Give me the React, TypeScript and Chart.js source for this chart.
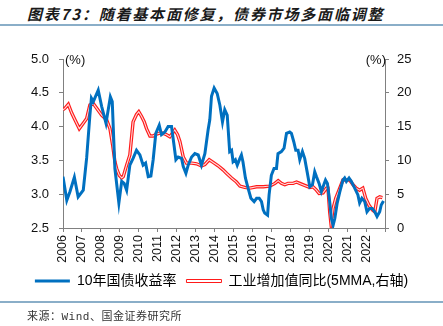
import React, { useEffect, useRef } from "react";
import { Chart, registerables } from "chart.js";

Chart.register(...registerables);

// 10-year government bond yield (%, left axis)
const yieldYears = [
  2006.0, 2006.2, 2006.37, 2006.6, 2006.8, 2007.07, 2007.25, 2007.42, 2007.5, 2007.6,
  2007.86, 2008.04, 2008.27, 2008.5, 2008.6, 2008.74, 2008.95, 2009.1, 2009.23, 2009.36,
  2009.53, 2009.7, 2009.88, 2010.06, 2010.23, 2010.36, 2010.5, 2010.64, 2010.76, 2010.9,
  2011.08, 2011.2, 2011.38, 2011.55, 2011.73, 2011.85, 2011.96, 2012.08, 2012.26, 2012.35,
  2012.49, 2012.61, 2012.79, 2012.96, 2013.14, 2013.31, 2013.49, 2013.66, 2013.75, 2013.84,
  2013.98, 2014.14, 2014.28, 2014.42, 2014.54, 2014.67, 2014.8, 2014.9, 2014.98, 2015.1,
  2015.2, 2015.34, 2015.42, 2015.5, 2015.63, 2015.77, 2015.92, 2016.09, 2016.22, 2016.36,
  2016.48, 2016.57, 2016.65, 2016.8, 2016.88, 2017.0, 2017.14, 2017.27, 2017.35, 2017.53,
  2017.67, 2017.8, 2017.97, 2018.06, 2018.18, 2018.29, 2018.41, 2018.5, 2018.64, 2018.76,
  2018.89, 2019.03, 2019.17, 2019.29, 2019.38, 2019.52, 2019.64, 2019.73, 2019.86, 2019.96,
  2020.08, 2020.17, 2020.26, 2020.35, 2020.47, 2020.61, 2020.78, 2020.87, 2020.96, 2021.1,
  2021.22, 2021.4, 2021.57, 2021.66, 2021.78, 2021.93, 2022.05, 2022.19, 2022.33, 2022.46,
  2022.58, 2022.72, 2022.8, 2022.92,
];
const yieldValues = [
  3.26, 2.91, 3.04, 3.25, 2.96, 3.06, 3.54, 4.17, 4.42, 4.37,
  4.54, 4.3, 4.05, 4.44, 4.37, 3.38, 2.87, 3.19, 3.16, 3.06,
  3.43, 3.53, 3.65, 3.58, 3.43, 3.46, 3.26, 3.27, 3.51, 3.9,
  4.02, 3.88, 3.92, 4.0, 4.0, 3.75, 3.51, 3.55, 3.53, 3.41,
  3.31, 3.43, 3.55, 3.6, 3.58, 3.43, 3.6, 3.95, 4.1, 4.45,
  4.57, 4.49, 4.32, 4.07, 4.25, 4.17, 3.63, 3.65, 3.48, 3.51,
  3.43, 3.53, 3.58, 3.48, 3.24, 3.09, 2.94, 2.89, 2.94, 2.94,
  2.89, 2.77, 2.72, 2.69, 2.99, 3.28, 3.38, 3.38, 3.6, 3.63,
  3.68, 3.9, 3.92, 3.9, 3.78, 3.65, 3.65, 3.51, 3.63, 3.53,
  3.33, 3.11, 3.14, 3.33, 3.26, 3.16, 3.04, 3.11, 3.21, 3.16,
  2.89, 2.64, 2.54, 2.64, 2.86, 3.03, 3.21, 3.24, 3.19, 3.24,
  3.19, 3.09, 2.99, 2.87, 2.94, 2.89, 2.74, 2.79, 2.79, 2.74,
  2.67, 2.74, 2.84, 2.9,
];

// Industrial value added YoY, 5-month moving average (%, right axis)
const ivaYears = [
  2006.0, 2006.1, 2006.28, 2006.46, 2006.63, 2006.86, 2007.07, 2007.25, 2007.42, 2007.6,
  2007.78, 2008.04, 2008.3, 2008.48, 2008.62, 2008.74, 2008.83, 2008.97, 2009.1, 2009.18,
  2009.36, 2009.53, 2009.7, 2009.88, 2010.0, 2010.15, 2010.29, 2010.41, 2010.59, 2010.76,
  2010.94, 2011.2, 2011.47, 2011.64, 2011.9, 2012.05, 2012.17, 2012.35, 2012.52, 2012.8,
  2013.05, 2013.31, 2013.49, 2013.72, 2013.93, 2014.19, 2014.45, 2014.63, 2014.9, 2015.16,
  2015.34, 2015.6, 2015.86, 2016.22, 2016.57, 2016.92, 2017.19, 2017.36, 2017.53, 2017.71,
  2017.88, 2018.15, 2018.33, 2018.5, 2018.76, 2019.03, 2019.2, 2019.38, 2019.52, 2019.73,
  2019.91, 2019.99, 2020.08, 2020.15, 2020.26, 2020.4, 2020.57, 2020.78, 2020.96, 2021.13,
  2021.31, 2021.48, 2021.66, 2021.83, 2021.98, 2022.15, 2022.33, 2022.46, 2022.58, 2022.72,
  2022.86,
];
const ivaValues = [
  17.5, 17.7, 18.3, 17.0, 16.0, 14.7, 15.5, 16.2, 18.2, 18.4,
  17.7, 16.7, 16.0, 14.7, 12.3, 9.8, 8.8, 7.8, 7.4, 7.6,
  9.3, 10.8, 15.7, 16.8, 17.2, 16.5, 15.7, 14.7, 13.6, 13.6,
  13.9, 14.1, 13.8, 13.5, 14.5, 13.8, 12.8, 10.5, 9.6, 9.6,
  9.5, 9.2, 9.4, 10.1, 9.7, 9.2, 8.6, 8.1, 7.4, 6.8,
  6.2, 6.0, 5.9, 6.1, 6.1, 6.2, 6.6, 7.0, 6.6, 6.4,
  6.6, 6.6, 6.8, 6.6, 6.3, 6.0, 6.1, 5.6, 5.1, 5.2,
  5.9, 5.9, 2.4, 0.6, 2.9, 4.4, 5.6, 7.1, 7.1, 7.1,
  6.4, 5.9, 5.6, 5.9, 4.4, 3.4, 2.7, 2.4, 4.4, 4.6,
  4.5,
];

const leftTicks = [2.5, 3.0, 3.5, 4.0, 4.5, 5.0];
const rightTicks = [0, 5, 10, 15, 20, 25];
const yearLabels = [2006, 2007, 2008, 2009, 2010, 2011, 2012, 2013, 2014, 2015, 2016, 2017, 2018, 2019, 2020, 2021, 2022];

const BLUE = "#0070C0";
const RED = "#FF1A1A";
const AXIS = "#808080";
const FONT = "'Liberation Sans', Arial, 'Noto Sans CJK SC', sans-serif";

const unitPlugin = {
  id: "unitLabels",
  afterDraw(chart: any) {
    const { ctx, chartArea } = chart;
    ctx.save();
    ctx.font = `13px ${FONT}`;
    ctx.fillStyle = "#111";
    ctx.textBaseline = "middle";
    ctx.textAlign = "left";
    ctx.fillText("(%)", chartArea.left + 2, chartArea.top + 1);
    ctx.textAlign = "right";
    ctx.fillText("(%)", chartArea.right + 1, chartArea.top + 1);
    ctx.restore();
  },
};

export default function App() {
  const ref = useRef<HTMLCanvasElement | null>(null);

  useEffect(() => {
    if (!ref.current) return;
    const yieldData = yieldYears.map((x, i) => ({ x, y: yieldValues[i] }));
    const ivaData = ivaYears.map((x, i) => ({ x, y: ivaValues[i] }));
    const chart = new Chart(ref.current, {
      type: "line",
      data: {
        datasets: [
          {
            label: "10年国债收益率",
            data: yieldData,
            yAxisID: "y",
            borderColor: BLUE,
            backgroundColor: BLUE,
            borderWidth: 3,
            pointRadius: 0,
            tension: 0,
          },
          {
            label: "工业增加值同比(5MMA,右轴)",
            data: ivaData,
            yAxisID: "y2",
            borderColor: "rgba(255,255,255,0.85)",
            borderWidth: 1.1,
            pointRadius: 0,
            tension: 0,
          },
          {
            label: "outline",
            data: ivaData,
            yAxisID: "y2",
            borderColor: RED,
            borderWidth: 3.4,
            pointRadius: 0,
            tension: 0,
          },
        ],
      },
      options: {
        animation: false,
        responsive: false,
        devicePixelRatio: 1,
        layout: { padding: { top: 59, left: 0, right: 0, bottom: 28 } },
        plugins: {
          tooltip: { enabled: false },
          title: { display: false },
          legend: {
            position: "bottom",
            labels: {
              boxWidth: 35,
              boxHeight: 3,
              padding: 10,
              color: "#111",
              font: { size: 14, family: FONT },
              generateLabels: () => [
                { text: "10年国债收益率", fillStyle: BLUE, strokeStyle: BLUE, lineWidth: 0, datasetIndex: 0, hidden: false },
                { text: "工业增加值同比(5MMA,右轴)", fillStyle: "#ffffff", strokeStyle: RED, lineWidth: 1, datasetIndex: 1, hidden: false },
              ],
            },
          },
        },
        scales: {
          x: {
            type: "linear",
            min: 2006,
            max: 2023,
            afterFit: (s: any) => { s.height = 36; },
            afterBuildTicks: (s: any) => {
              s.ticks = [...yearLabels, 2023].map((v) => ({ value: v }));
            },
            ticks: {
              autoSkip: false,
              minRotation: 90,
              maxRotation: 90,
              padding: 3,
              color: "#111",
              font: { size: 12.5, family: FONT },
              callback: (v: any) => (yearLabels.includes(Number(v)) ? String(v) : ""),
            },
            grid: { display: true, drawOnChartArea: false, drawTicks: true, tickLength: 4, color: AXIS },
            border: { display: true, color: AXIS, width: 1 },
          },
          y: {
            type: "linear",
            position: "left",
            min: 2.5,
            max: 5.0,
            afterFit: (s: any) => { s.width = 63; },
            afterBuildTicks: (s: any) => {
              s.ticks = leftTicks.map((v) => ({ value: v }));
            },
            ticks: {
              padding: 10,
              color: "#111",
              font: { size: 13, family: FONT },
              callback: (v: any) => Number(v).toFixed(1),
            },
            grid: { display: true, drawOnChartArea: false, drawTicks: true, tickLength: 4, color: AXIS },
            border: { display: true, color: AXIS, width: 1 },
          },
          y2: {
            type: "linear",
            position: "right",
            min: 0,
            max: 25,
            afterFit: (s: any) => { s.width = 58; },
            afterBuildTicks: (s: any) => {
              s.ticks = rightTicks.map((v) => ({ value: v }));
            },
            ticks: {
              padding: 8,
              color: "#111",
              font: { size: 13, family: FONT },
              callback: (v: any) => String(v),
            },
            grid: { display: true, drawOnChartArea: false, drawTicks: true, tickLength: 4, color: AXIS },
            border: { display: true, color: AXIS, width: 1 },
          },
        },
      },
      plugins: [unitPlugin],
    });
    return () => chart.destroy();
  }, []);

  return (
    <div style={{ position: "fixed", left: 0, top: 0, width: 443, height: 326, background: "#fff", overflow: "hidden" }}>
      <div
        style={{
          position: "absolute",
          left: 27,
          top: 4,
          fontFamily: "'Noto Sans CJK SC', sans-serif",
          fontWeight: 700,
          fontStyle: "italic",
          fontSize: 15,
          letterSpacing: "1.8px",
          lineHeight: "20px",
          color: "#1a1a1a",
          whiteSpace: "nowrap",
        }}
      >
        图表73：随着基本面修复，债券市场多面临调整
      </div>
      <div style={{ position: "absolute", left: 0, top: 24, width: 443, height: 1.5, background: "#8aaec8" }} />
      <canvas ref={ref} width={443} height={326} style={{ position: "absolute", left: 0, top: 0, width: 443, height: 326 }} />
      <div style={{ position: "absolute", left: 0, top: 301, width: 443, height: 1.5, background: "#8aaec8" }} />
      <div
        style={{
          position: "absolute",
          left: 27,
          top: 309,
          fontFamily: "'Liberation Mono', 'Noto Sans CJK SC', monospace",
          fontSize: 11,
          letterSpacing: "0.5px",
          lineHeight: "16px",
          color: "#333",
          whiteSpace: "nowrap",
        }}
      >
        来源：Wind、国金证券研究所
      </div>
    </div>
  );
}
